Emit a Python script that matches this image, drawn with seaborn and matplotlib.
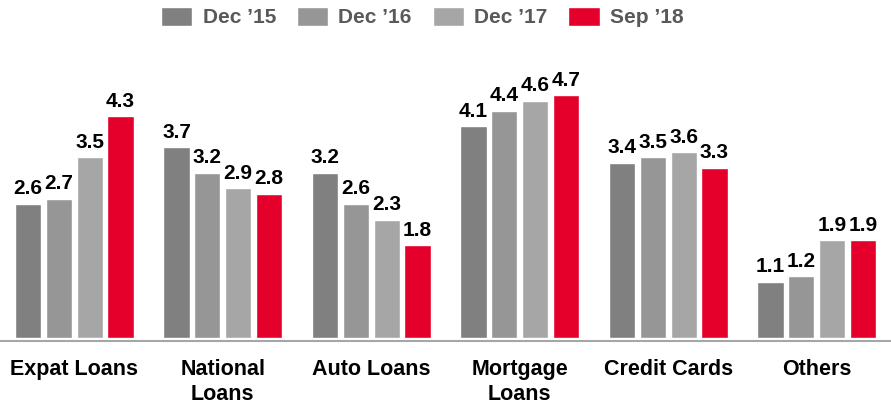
import numpy as np
import matplotlib.pyplot as plt
import seaborn as sns
import pandas as pd

# Chart data
categories = ['Expat Loans', 'National\nLoans', 'Auto Loans', 'Mortgage\nLoans', 'Credit Cards', 'Others']
periods = ["Dec \u201915", "Dec \u201916", "Dec \u201917", "Sep \u201918"]
dec15 = [2.6, 3.7, 3.2, 4.1, 3.4, 1.1]
dec16 = [2.7, 3.2, 2.6, 4.4, 3.5, 1.2]
dec17 = [3.5, 2.9, 2.3, 4.6, 3.6, 1.9]
sep18 = [4.3, 2.8, 1.8, 4.7, 3.3, 1.9]

colors = ['#808080', '#969696', '#a6a6a6', '#e4002b']

df = pd.DataFrame({
    'category': categories * 4,
    'period': np.repeat(periods, len(categories)),
    'value': dec15 + dec16 + dec17 + sep18,
})

sns.set_style('white')
plt.rcParams['font.family'] = ['Liberation Sans', 'DejaVu Sans']

fig = plt.figure(figsize=(8.91, 4.05), dpi=100)
ax = fig.add_axes([0.0, 0.158, 1.0, 0.743])

sns.barplot(data=df, x='category', y='value', hue='period', palette=colors,
            width=0.83, gap=0.15, saturation=1, ax=ax, legend=True)

for c in ax.containers:
    ax.bar_label(c, fmt='%.1f', padding=4, fontsize=15, fontweight='bold', color='black')

ax.set_ylim(-0.05, 5.77)
ax.set_xlim(-0.5, 5.5)
ax.set_xlabel('')
ax.set_ylabel('')
ax.set_yticks([])
ax.tick_params(axis='x', length=0, pad=13, labelsize=15.5)
for lbl in ax.get_xticklabels():
    lbl.set_fontweight('bold')
    lbl.set_color('black')
    lbl.set_linespacing(1.25)

for s in ['top', 'left', 'right']:
    ax.spines[s].set_visible(False)
ax.spines['bottom'].set_color('#a6a6a6')
ax.spines['bottom'].set_linewidth(1.5)

handles, labels = ax.get_legend_handles_labels()
ax.get_legend().remove()
leg = fig.legend(handles, labels, loc='upper center', bbox_to_anchor=(0.474, 1.03),
                 ncol=4, frameon=False, handlelength=1.5, handleheight=1.05,
                 columnspacing=1.0, handletextpad=0.5,
                 prop={'weight': 'bold', 'size': 15})
for t in leg.get_texts():
    t.set_color('#595959')

fig.savefig('out.png', dpi=100)
